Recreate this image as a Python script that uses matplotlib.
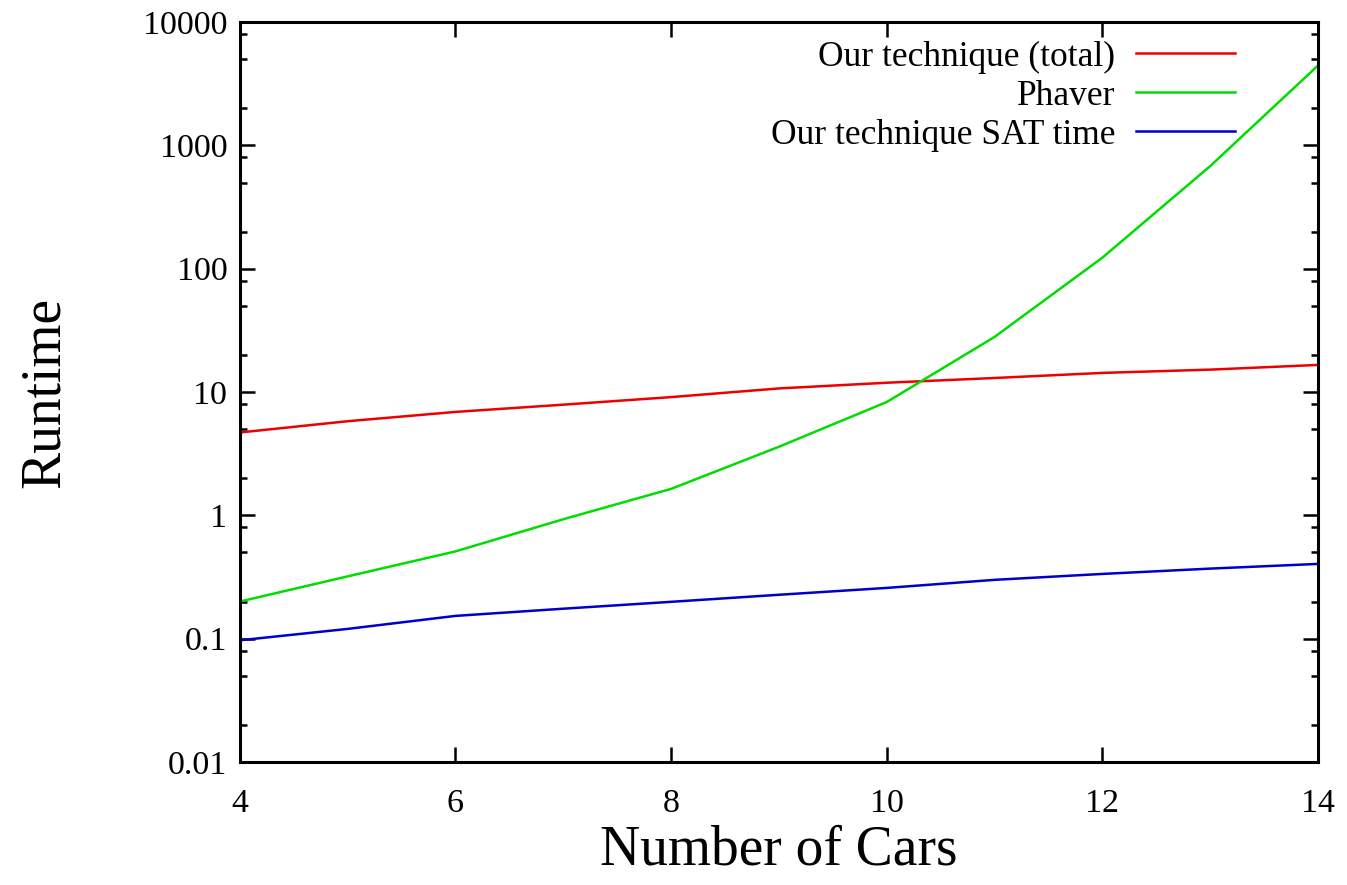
import matplotlib
matplotlib.use('Agg')
import matplotlib.pyplot as plt
from matplotlib.ticker import LogLocator, FixedLocator, NullFormatter

# ========= data ============================================
cars = [4, 5, 6, 7, 8, 9, 10, 11, 12, 13, 14]
total_time = [4.7, 5.8, 6.9, 7.9, 9.1, 10.7, 11.9, 13.0, 14.3, 15.2, 16.6]
phaver_time = [0.20, 0.32, 0.51, 0.93, 1.64, 3.6, 8.3, 28.0, 123.0, 680.0, 4450.0]
sat_time = [0.097, 0.12, 0.153, 0.175, 0.199, 0.227, 0.258, 0.30, 0.335, 0.37, 0.404]

x_ticks = [4, 6, 8, 10, 12, 14]
y_ticks = [0.01, 0.1, 1, 10, 100, 1000, 10000]
y_tick_labels = ['0.01', '0.1', '1', '10', '100', '1000', '10000']
# ===========================================================

plt.rcParams['font.family'] = ['Liberation Serif', 'DejaVu Serif']


def main():
    fig = plt.figure(figsize=(13.47, 8.85), dpi=100)
    ax = fig.add_axes([0.178, 0.139, 0.8005, 0.836])

    ax.plot(cars, total_time, color='#ee0000', lw=1.8, label='Our technique (total)')
    ax.plot(cars, phaver_time, color='#00dd00', lw=1.8, label='Phaver')
    ax.plot(cars, sat_time, color='#0000cc', lw=1.8, label='Our technique SAT time')

    ax.set_yscale('log')
    ax.set_xlim(4, 14)
    ax.set_ylim(0.01, 10000)

    ax.xaxis.set_major_locator(FixedLocator(x_ticks))
    ax.set_yticks(y_ticks)
    ax.set_yticklabels(y_tick_labels)
    ax.yaxis.set_minor_locator(LogLocator(base=10, subs=[2, 5, 8]))
    ax.yaxis.set_minor_formatter(NullFormatter())

    ax.tick_params(which='both', direction='in', top=True, right=True,
                   width=1.8, labelsize=24.5)
    ax.tick_params(axis='y', pad=9)
    ax.tick_params(axis='x', pad=19)
    ax.tick_params(which='major', length=11)
    ax.tick_params(which='minor', length=5)
    for sp in ax.spines.values():
        sp.set_linewidth(2.2)

    ax.set_xlabel('Number of Cars', fontsize=40, labelpad=4)
    ax.set_ylabel('Runtime', fontsize=40, labelpad=52)

    ax.legend(loc='upper right', frameon=False, markerfirst=False, fontsize=25.5,
              handlelength=2.8, handletextpad=0.6, labelspacing=0.17,
              bbox_to_anchor=(0.953, 1.018))

    fig.savefig('out.png', dpi=100)


if __name__ == "__main__":
    main()
